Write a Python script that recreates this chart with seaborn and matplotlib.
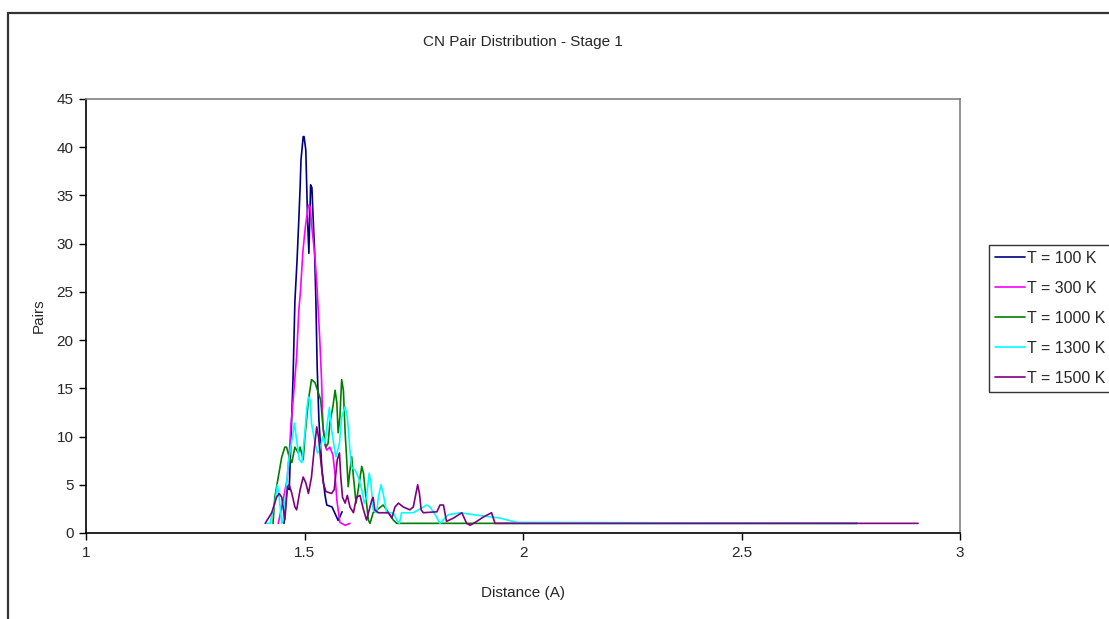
import numpy as np
import pandas as pd
import matplotlib
matplotlib.use("Agg")
import matplotlib.pyplot as plt
import seaborn as sns
from matplotlib.patches import Rectangle

# series (distance in A, pair counts)
x_100 = [1.453, 1.460, 1.465, 1.469, 1.474, 1.478, 1.483, 1.487, 1.490, 1.492, 1.497, 1.499,
         1.503, 1.507, 1.510, 1.514, 1.517, 1.519, 1.523, 1.526, 1.529, 1.533, 1.540, 1.547,
         1.551, 1.563, 1.577, 1.586]
y_100 = [1.0, 4.7, 4.5, 9.6, 16.4, 24.0, 28.3, 32.5, 35.9, 38.7, 41.1, 41.1,
         39.7, 32.5, 29.0, 36.1, 35.8, 33.5, 29.3, 24.2, 17.2, 11.7, 6.5, 3.9,
         2.9, 2.7, 1.3, 2.2]

x_300 = [1.440, 1.451, 1.460, 1.465, 1.469, 1.474, 1.482, 1.487, 1.491, 1.496, 1.500, 1.503,
         1.509, 1.513, 1.516, 1.524, 1.529, 1.535, 1.539, 1.542, 1.547, 1.551, 1.558, 1.565,
         1.570, 1.574, 1.581, 1.593, 1.604]
y_300 = [1.0, 3.4, 5.5, 8.1, 11.2, 13.8, 18.3, 23.1, 25.2, 29.0, 30.9, 32.1,
         34.0, 33.8, 32.1, 28.6, 25.2, 20.0, 15.9, 11.2, 9.1, 8.6, 8.9, 8.1,
         6.0, 3.4, 1.1, 0.8, 1.0]

x_1000 = [1.428, 1.432, 1.440, 1.448, 1.455, 1.459, 1.465, 1.471, 1.478, 1.482, 1.486, 1.490,
          1.497, 1.501, 1.509, 1.516, 1.524, 1.532, 1.537, 1.543, 1.549, 1.554, 1.558, 1.565,
          1.570, 1.574, 1.577, 1.581, 1.585, 1.589, 1.593, 1.597, 1.600, 1.604, 1.608, 1.612,
          1.618, 1.623, 1.631, 1.635, 1.638, 1.646, 1.650, 1.657, 1.680, 1.688, 1.703, 1.711,
          2.764]
y_1000 = [1.0, 3.7, 5.8, 7.9, 8.9, 8.9, 7.9, 7.3, 8.9, 8.6, 8.3, 8.9,
          7.6, 10.0, 13.8, 15.9, 15.6, 14.5, 13.8, 10.7, 8.9, 9.3, 11.4, 13.1,
          14.8, 13.5, 10.4, 12.0, 15.9, 14.8, 10.4, 7.3, 4.8, 6.5, 7.9, 5.8,
          3.1, 4.5, 6.9, 6.2, 4.8, 1.35, 1.0, 2.1, 2.9, 2.4, 1.35, 1.0,
          1.0]

x_1300 = [1.413, 1.421, 1.432, 1.438, 1.442, 1.448, 1.451, 1.458, 1.463, 1.471, 1.477, 1.482,
          1.488, 1.494, 1.501, 1.505, 1.509, 1.513, 1.516, 1.524, 1.530, 1.535, 1.542, 1.547,
          1.553, 1.557, 1.562, 1.568, 1.572, 1.580, 1.585, 1.593, 1.598, 1.604, 1.608, 1.616,
          1.623, 1.631, 1.637, 1.642, 1.648, 1.652, 1.657, 1.665, 1.669, 1.675, 1.680, 1.688,
          1.703, 1.711, 1.717, 1.722, 1.749, 1.780, 1.787, 1.799, 1.810, 1.829, 1.856, 1.902,
          1.947, 1.986, 2.764]
y_1300 = [1.0, 1.0, 3.1, 5.0, 3.7, 1.0, 1.35, 4.5, 7.3, 9.6, 11.4, 9.6,
          7.6, 7.3, 10.4, 12.8, 14.1, 13.8, 11.4, 9.3, 8.3, 8.6, 10.0, 9.3,
          11.7, 13.0, 10.7, 8.9, 7.9, 9.3, 12.0, 13.1, 12.0, 8.6, 6.8, 6.5,
          5.8, 4.5, 3.1, 3.7, 6.2, 5.2, 2.4, 2.1, 3.7, 5.0, 4.1, 2.1,
          2.1, 1.35, 1.0, 2.1, 2.1, 2.9, 2.7, 1.9, 1.0, 1.9, 2.1, 1.8,
          1.55, 1.1, 1.0]

x_1500 = [1.410, 1.425, 1.436, 1.442, 1.448, 1.455, 1.461, 1.465, 1.471, 1.478, 1.482, 1.490,
          1.497, 1.503, 1.509, 1.516, 1.522, 1.528, 1.532, 1.537, 1.543, 1.549, 1.562, 1.568,
          1.575, 1.580, 1.583, 1.587, 1.593, 1.598, 1.604, 1.612, 1.619, 1.627, 1.635, 1.642,
          1.654, 1.657, 1.661, 1.669, 1.692, 1.700, 1.707, 1.715, 1.726, 1.741, 1.749, 1.755,
          1.759, 1.763, 1.767, 1.772, 1.803, 1.810, 1.818, 1.825, 1.841, 1.860, 1.871, 1.879,
          1.894, 1.909, 1.928, 1.936, 2.904]
y_1500 = [1.0, 2.1, 3.7, 4.1, 3.7, 1.35, 4.8, 5.0, 4.1, 2.7, 2.4, 4.5,
          5.8, 5.2, 4.1, 5.8, 8.6, 11.0, 10.0, 7.6, 5.2, 4.3, 4.1, 4.5,
          7.6, 8.3, 5.8, 3.7, 3.1, 3.9, 2.7, 2.1, 3.7, 3.9, 2.4, 1.35,
          3.4, 3.7, 2.4, 2.1, 2.1, 1.56, 2.7, 3.1, 2.7, 2.4, 2.7, 4.1,
          5.0, 4.1, 2.4, 2.1, 2.2, 2.9, 2.9, 1.2, 1.55, 2.1, 1.0, 0.8,
          1.2, 1.65, 2.1, 1.0, 1.0]

labels = ["T = 100 K", "T = 300 K", "T = 1000 K", "T = 1300 K", "T = 1500 K"]
colors = ["#000080", "#FF00FF", "#008000", "#00FFFF", "#800080"]
x_ticks = [1, 1.5, 2, 2.5, 3]
x_tick_labels = ["1", "1.5", "2", "2.5", "3"]
y_ticks = [0, 5, 10, 15, 20, 25, 30, 35, 40, 45]

frames = []
for lab, xs, ys in zip(labels, [x_100, x_300, x_1000, x_1300, x_1500],
                       [y_100, y_300, y_1000, y_1300, y_1500]):
    frames.append(pd.DataFrame({"Distance": xs, "Pairs": ys, "Series": lab}))
df = pd.concat(frames, ignore_index=True)

sns.set_style("white")
plt.rcParams["font.family"] = ["Liberation Sans", "DejaVu Sans"]
plt.rcParams["font.size"] = 11

fig = plt.figure(figsize=(11.09, 6.19), dpi=100)
ax = fig.add_axes([86 / 1109, 1 - 533 / 619, (960 - 86) / 1109, (533 - 99) / 619])

sns.lineplot(data=df, x="Distance", y="Pairs", hue="Series", hue_order=labels,
             palette=dict(zip(labels, colors)), estimator=None, sort=False,
             linewidth=1.2, ax=ax, legend=False)

ax.set_xlim(1, 3)
ax.set_ylim(0, 45)
ax.set_xticks(x_ticks)
ax.set_xticklabels(x_tick_labels)
ax.set_yticks(y_ticks)
ax.tick_params(axis="both", direction="out", length=5, width=1, color="black",
               labelsize=11, pad=4, bottom=True, left=True)
ax.tick_params(axis="x", pad=4.5)
for side in ["top", "right"]:
    ax.spines[side].set_color("#808080")
    ax.spines[side].set_linewidth(1.2)
for side in ["left", "bottom"]:
    ax.spines[side].set_color("black")
    ax.spines[side].set_linewidth(1.2)
ax.grid(False)

ax.set_xlabel("Distance (A)", fontsize=11, labelpad=18.5)
ax.set_ylabel("Pairs", fontsize=11, labelpad=8)
ax.set_title("CN Pair Distribution - Stage 1", fontsize=11, pad=38.5)

handles = [plt.Line2D([], [], color=c, lw=1.2) for c in colors]
leg = fig.legend(handles, labels, loc="upper left",
                 bbox_to_anchor=(989 / 1109, 1 - 245 / 619),
                 frameon=True, fancybox=False, edgecolor="black",
                 fontsize=11.5, handlelength=1.9, handletextpad=0.15,
                 labelspacing=0.94, borderpad=0.36, borderaxespad=0)
leg.get_frame().set_linewidth(1.0)

# outer chart-area border
fig.add_artist(Rectangle((8 / 1109, -0.1), 1.2, 1 - 13 / 619 + 0.1,
                         transform=fig.transFigure, fill=False,
                         edgecolor="#333333", linewidth=1.6))

fig.savefig("out.png", dpi=100)
